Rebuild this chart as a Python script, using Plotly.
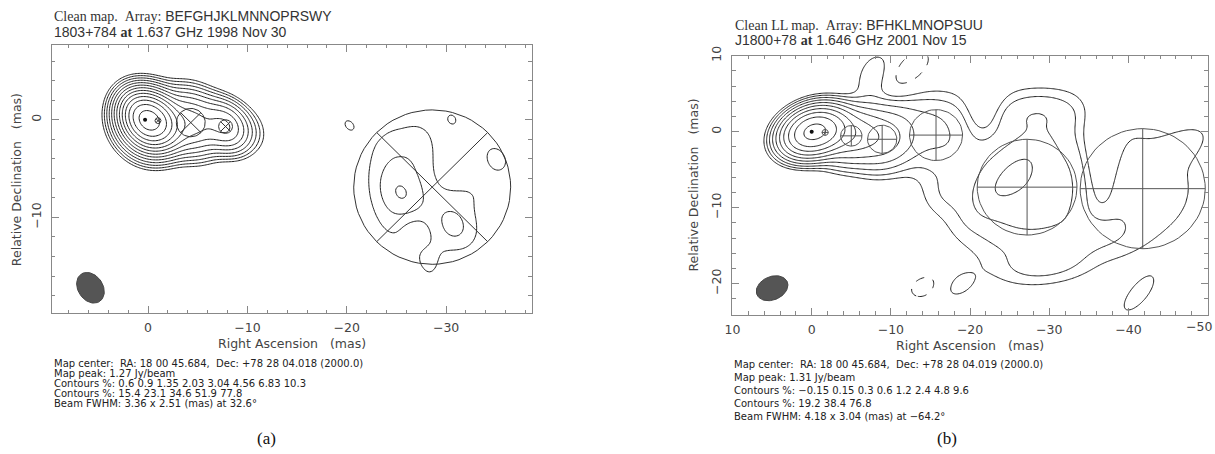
import numpy as np
import plotly.graph_objects as go

W, H = 1215, 454

# ---------------- panel (a): 1803+784, 1.637 GHz, 1998 Nov 30 ----------------
a_title = ["Clean map.", "Array:", "BEFGHJKLMNNOPRSWY", "1803+784", "at", "1.637 GHz 1998 Nov 30"]
a_notes = ["Map center:  RA: 18 00 45.684,  Dec: +78 28 04.018 (2000.0)",
           "Map peak: 1.27 Jy/beam",
           "Contours %: 0.6 0.9 1.35 2.03 3.04 4.56 6.83 10.3",
           "Contours %: 15.4 23.1 34.6 51.9 77.8",
           "Beam FWHM: 3.36 x 2.51 (mas) at 32.6\u00b0"]
a_levels = [0.6, 0.9, 1.35, 2.03, 3.04, 4.56, 6.83, 10.3, 15.4, 23.1, 34.6, 51.9, 77.8]
a_beam = [3.36, 2.51, 32.6]          # FWHM major, minor (mas), PA (deg)
a_beam_xy = [5.8, -17.2]
a_xrange = [9.7, -38.6]
a_yrange = [-19.8, 7.65]

# model components: RA offset, Dec offset (mas), FWHM (mas), peak (% of map peak)
a_comp_x = [0.3, -1.0, -4.3, -7.8, -28.6]
a_comp_y = [0.0, -0.1, -0.3, -0.7, -6.9]
a_comp_d = [0.2, 0.6, 2.9, 1.4, 15.8]
a_comp_peak = [62, 35, 12, 10, 0.15]
a_comp_cross = [45, 45, 45, 45, 45]

# extra emission / noise patches: x, y, FWHM maj, min, PA, peak %
a_blob_x = [0.0, -10.0, -25.3, -25.5, -31.6, -30.6, -28.4, -27.8, -33.0, -27.0, -20.0, -30.7, -35.1]
a_blob_y = [-0.3, -1.1, -6.8, -7.6, -11.0, -10.9, -15.0, -2.0, -7.3, -11.3, -0.4, 0.1, -4.0]
a_blob_maj = [3.0, 2.0, 12.0, 0.5, 5.0, 2.5, 4.0, 3.0, 3.0, 1.5, 0.0, 1.0, 1.0]
a_blob_min = [3.0, 2.0, 6.0, 0.5, 4.0, 1.0, 1.0, 1.0, 1.0, 1.5, 0.0, 0.0, 0.5]
a_blob_pa = [0, 0, 5, 0, 20, 0, 0, 0, 90, 0, 0, 0, 0]
a_blob_peak = [20, 0.9, 0.95, 0.4, 0.6, 0.25, 0.4, 0.25, 0.3, -0.35, 0.5, 0.52, 0.72]

# ---------------- panel (b): J1800+78, 1.646 GHz, 2001 Nov 15 ----------------
b_title = ["Clean LL map.", "Array:", "BFHKLMNOPSUU", "J1800+78", "at", "1.646 GHz 2001 Nov 15"]
b_notes = ["Map center:  RA: 18 00 45.684,  Dec: +78 28 04.019 (2000.0)",
           "Map peak: 1.31 Jy/beam",
           "Contours %: \u22120.15 0.15 0.3 0.6 1.2 2.4 4.8 9.6",
           "Contours %: 19.2 38.4 76.8",
           "Beam FWHM: 4.18 x 3.04 (mas) at \u221264.2\u00b0"]
b_levels = [0.15, 0.3, 0.6, 1.2, 2.4, 4.8, 9.6, 19.2, 38.4, 76.8]
b_neg_levels = [-0.15]
b_beam = [4.18, 3.04, -64.2]
b_beam_xy = [5.0, -20.6]
b_xrange = [10, -50]
b_yrange = [-24.1, 10]
b_xticks = [10, 0, -10, -20, -30, -40, -50]

b_comp_x = [0.0, -1.7, -5.0, -8.9, -15.7, -27.2, -41.8]
b_comp_y = [0.0, -0.1, -0.55, -1.0, -0.45, -7.3, -7.5]
b_comp_d = [0.3, 0.8, 2.7, 3.7, 6.7, 12.6, 15.8]
b_comp_peak = [85, 30, 7, 3.5, 0.6, 1.0, 0.22]
b_comp_cross = [0, 0, 0, 0, 0, 0, 0]

b_blob_x = [-8.0, -13.0, -25.1, -28.5, -29.5, -36.0, -36.2, -21.7, -46.5,
            -12.1, -14.3, -18.4, -41.0, -17.0]
b_blob_y = [7.0, 2.5, -6.0, 2.5, -17.5, -13.5, -4.5, 2.5, -2.0,
            8.0, -20.4, -20.3, -21.8, -8.0]
b_blob_maj = [5.0, 7.0, 8.0, 8.0, 8.0, 6.0, 12.0, 6.0, 6.0, 5.0, 1.5, 2.0, 7.0, 3.0]
b_blob_min = [0.8, 2.0, 1.5, 3.0, 2.0, 3.0, 0.5, 0.5, 0.5, 0.5, 0.5, 0.3, 0.3, 3.0]
b_blob_pa = [-5, 90, -40, 90, 95, 90, 0, 0, -55, -44, -60, -54, -36, 0]
b_blob_peak = [0.3, 0.2, 0.6, 0.4, 0.3, 0.25, -0.4, -0.3, 0.15,
               -0.32, -0.25, 0.2, 0.17, 0.15]


def cov(maj, mn, pa):
    s1, s2 = maj / 2.3548, mn / 2.3548
    t = np.radians(pa)
    e1 = np.array([np.sin(t), np.cos(t)])
    e2 = np.array([np.cos(t), -np.sin(t)])
    return s1 ** 2 * np.outer(e1, e1) + s2 ** 2 * np.outer(e2, e2)


def make_map(xg, yg, beam, comps, blobs):
    X, Y = np.meshgrid(xg, yg)
    img = np.zeros_like(X)
    sb = cov(*beam)
    gauss = [(x0, y0, p, sb + cov(d, d, 0)) for x0, y0, d, p in comps]
    gauss += [(x0, y0, p, sb + cov(mj, mn, pa)) for x0, y0, mj, mn, pa, p in blobs]
    for x0, y0, p, s in gauss:
        inv = np.linalg.inv(s)
        dx, dy = X - x0, Y - y0
        q = inv[0, 0] * dx * dx + 2 * inv[0, 1] * dx * dy + inv[1, 1] * dy * dy
        img += p * np.exp(-0.5 * q)
    return img / img.max() * 100


def contour(xg, yg, img, levels, xa, ya, dash="solid", sign=1):
    z = np.round(np.log10(np.clip(sign * img, 1e-4, None)), 3)
    lo = np.log10(abs(levels[0]))
    step = (np.log10(abs(levels[-1])) - lo) / (len(levels) - 1) if len(levels) > 1 else 1.0
    hi = np.log10(abs(levels[-1])) + step / 2
    return go.Contour(x=np.round(xg, 3), y=np.round(yg, 3), z=z, xaxis=xa, yaxis=ya,
                      autocontour=False, contours=dict(coloring="lines", start=lo, end=hi, size=step),
                      colorscale=[[0, "#222"], [1, "#222"]], showscale=False,
                      line=dict(width=1, dash=dash, smoothing=1), hoverinfo="skip")


def comp_shapes(cx, cy, cd, cpa):
    t = np.linspace(0, 2 * np.pi, 73)
    xs, ys = [], []
    for x0, y0, d, pa in zip(cx, cy, cd, cpa):
        r = d / 2
        xs += list(x0 + r * np.cos(t)) + [None]
        ys += list(y0 + r * np.sin(t)) + [None]
        for ang in (pa, pa + 90):
            a = np.radians(ang)
            xs += [x0 - r * np.sin(a), x0 + r * np.sin(a), None]
            ys += [y0 - r * np.cos(a), y0 + r * np.cos(a), None]
    return xs, ys


def beam_path(beam, xy):
    maj, mn, pa = beam
    t = np.linspace(0, 2 * np.pi, 73)
    a = np.radians(pa)
    u, v = maj / 2 * np.cos(t), mn / 2 * np.sin(t)
    return xy[0] + u * np.sin(a) + v * np.cos(a), xy[1] + u * np.cos(a) - v * np.sin(a)


fig = go.Figure()

panels = [
    dict(xa="x", ya="y", xr=a_xrange, yr=a_yrange, levels=a_levels, neg=None, beam=a_beam, bxy=a_beam_xy,
         comps=list(zip(a_comp_x, a_comp_y, a_comp_d, a_comp_peak)),
         blobs=list(zip(a_blob_x, a_blob_y, a_blob_maj, a_blob_min, a_blob_pa, a_blob_peak)),
         cshape=(a_comp_x, a_comp_y, a_comp_d, a_comp_cross), ccol="#333"),
    dict(xa="x2", ya="y2", xr=b_xrange, yr=b_yrange, levels=b_levels, neg=b_neg_levels, beam=b_beam, bxy=b_beam_xy,
         comps=list(zip(b_comp_x, b_comp_y, b_comp_d, b_comp_peak)),
         blobs=list(zip(b_blob_x, b_blob_y, b_blob_maj, b_blob_min, b_blob_pa, b_blob_peak)),
         cshape=(b_comp_x, b_comp_y, b_comp_d, b_comp_cross), ccol="#555"),
]

for p in panels:
    xg = np.arange(max(p["xr"]) + 0.5, min(p["xr"]) - 0.5, -0.15)
    yg = np.arange(min(p["yr"]) - 0.5, max(p["yr"]) + 0.5, 0.15)
    img = make_map(xg, yg, p["beam"], p["comps"], p["blobs"])
    fig.add_trace(contour(xg, yg, img, p["levels"], p["xa"], p["ya"]))
    if p["neg"]:
        fig.add_trace(contour(xg, yg, img, p["neg"], p["xa"], p["ya"], dash="dash", sign=-1))
    sx, sy = comp_shapes(*p["cshape"])
    fig.add_trace(go.Scatter(x=sx, y=sy, mode="lines", line=dict(color=p["ccol"], width=1),
                             xaxis=p["xa"], yaxis=p["ya"], hoverinfo="skip"))
    fig.add_trace(go.Scatter(x=[p["comps"][0][0]], y=[p["comps"][0][1]], mode="markers",
                             marker=dict(color="#111", size=4), xaxis=p["xa"], yaxis=p["ya"], hoverinfo="skip"))
    bx, by = beam_path(p["beam"], p["bxy"])
    fig.add_trace(go.Scatter(x=bx, y=by, mode="lines", fill="toself", fillcolor="#555",
                             line=dict(color="#444", width=1), xaxis=p["xa"], yaxis=p["ya"], hoverinfo="skip"))

tickfont = dict(family="DejaVu Sans", size=12.5, color="#444")
axis_common = dict(showline=True, linecolor="#888", linewidth=1, mirror="allticks", ticks="inside",
                   ticklen=7, tickcolor="#888", tickwidth=1, showgrid=False, zeroline=False,
                   tickfont=tickfont, dtick=10, tick0=0,
                   minor=dict(dtick=2, tick0=0, ticks="inside", ticklen=3.5, tickcolor="#888", showgrid=False))


def px_x(v):
    return v / W


def px_y(v):
    return 1 - v / H


fig.update_layout(
    width=W, height=H, margin=dict(l=0, r=0, t=0, b=0), showlegend=False,
    plot_bgcolor="white", paper_bgcolor="white",
    xaxis=dict(axis_common, domain=[px_x(44), px_x(527)], range=a_xrange, anchor="y", ticklabelstandoff=3),
    yaxis=dict(axis_common, domain=[px_y(310), px_y(35.7)], range=a_yrange, anchor="x", tickangle=-90,
               ticklabelstandoff=5),
    # last x label of panel (b) sits on the window edge; drawn as annotation below
    xaxis2=dict(axis_common, domain=[px_x(729.3), px_x(1207.6)], range=b_xrange, anchor="y2",
                tickmode="array", tickvals=b_xticks, ticktext=["10", "0", "\u221210", "\u221220", "\u221230",
                                                               "\u221240", ""],
                ticklabelstandoff=3),
    yaxis2=dict(axis_common, domain=[px_y(311.7), px_y(46.7)], range=b_yrange, anchor="x2", tickangle=-90,
                ticklabelstandoff=5),
)

serif = "Liberation Serif"
sans = "Liberation Sans"
notefont = "DejaVu Sans"
ann = []


def text(x, y, s, size, family=sans, color="#222", xanchor="left", angle=0):
    ann.append(dict(x=px_x(x), y=px_y(y), xref="paper", yref="paper", text=s, showarrow=False,
                    xanchor=xanchor, yanchor="middle", textangle=angle,
                    font=dict(family=family, size=size, color=color)))


def sp(s):
    return s.replace(" ", "\u00a0")


def title_lines(t):
    l1 = ("<span style='font-family:%s'>%s\u00a0\u00a0%s</span>\u00a0%s" % (serif, t[0], t[1], t[2]))
    l2 = ("%s\u00a0<span style='font-family:%s;font-weight:bold'>%s</span>\u00a0%s" % (t[3], serif, t[4], sp(t[5])))
    return l1, l2


for t, x0, ys in [(a_title, 44, (6, 22.5)), (b_title, 730, (15, 31))]:
    l1, l2 = title_lines(t)
    text(x0, ys[0], l1, 14, color="#333")
    text(x0, ys[1], l2, 14, color="#333")

for notes, x0, ys in [(a_notes, 44, [361, 371.3, 382, 391.7, 402]),
                      (b_notes, 729.3, [362, 375.3, 388.7, 402, 415.3])]:
    for s, y in zip(notes, ys):
        text(x0, y, sp(s), 10, family=notefont)

text(W - 1, 323.5, "\u221250", 12.5, family="DejaVu Sans", color="#444", xanchor="right")
text(285.5, 341, sp("Right Ascension   (mas)"), 12.5, family=notefont, color="#444", xanchor="center")
text(968.5, 343, sp("Right Ascension   (mas)"), 12.5, family=notefont, color="#444", xanchor="center")
text(8, 173, sp("Relative Declination   (mas)"), 12.5, family=notefont, color="#444", xanchor="center", angle=-90)
text(690, 179, sp("Relative Declination   (mas)"), 12.5, family=notefont, color="#444", xanchor="center", angle=-90)
text(260, 438, "(a)", 17, family=serif, color="#111", xanchor="center")
text(945, 438, "(b)", 17, family=serif, color="#111", xanchor="center")

fig.update_layout(annotations=ann)
fig.write_html("out.html", config={"displayModeBar": False},
               post_script="document.body.style.margin='0';document.body.style.overflow='hidden';")
